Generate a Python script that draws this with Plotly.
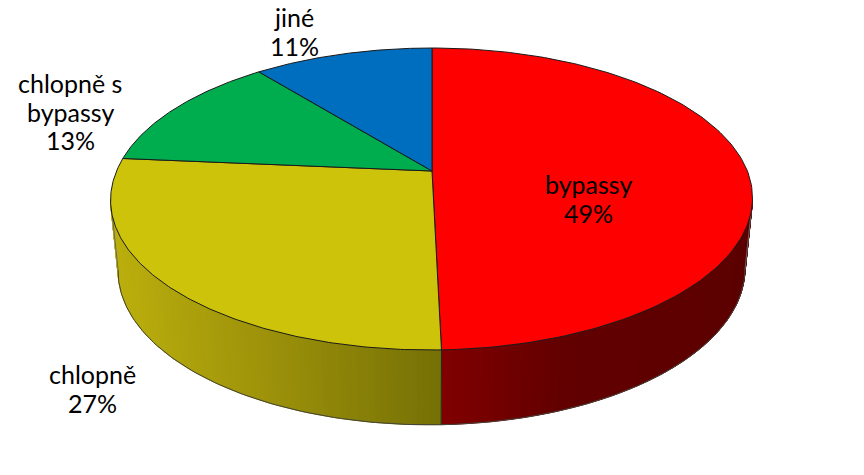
"""3D-looking pie of cardiac surgery shares, drawn as filled polygons."""

import numpy as np
import plotly.graph_objects as go

slice_names = ["bypassy", "chlopně", "chlopně s<br>bypassy", "jiné"]
slice_shares = [49.49, 26.9, 12.8, 10.81]
top_colors = ["#ff0000", "#cdc30a", "#00ad4e", "#006ebf"]

# wall colours as (position along the visible wall, rgb)
wall_stops = {
    0: [(0.0, (92, 0, 0)), (0.6, (98, 0, 0)), (1.0, (130, 0, 0))],
    1: [(0.0, (118, 113, 6)), (0.55, (158, 147, 10)), (1.0, (188, 176, 14))],
}

label_pos = [(588, 184), (92, 374), (70, 83), (294, 17)]
LINE_PITCH = 28.5

# projection of the disc: top face and bottom face
TOP = dict(cx=432.0, cy=171.0, a=315.4, b=145.8, k=0.1854, shear=2.4)
BOTTOM = dict(cx=432.0, cy=241.0, a=308.0, b=149.7, k=0.1854, shear=2.4)
# where the wall silhouette meets the rims
WALL_FROM, WALL_TO = np.radians(100.7), np.radians(259.3)


def project(theta, face):
    """Map a clockwise angle from 12 o'clock to page pixels."""
    u, v = np.sin(theta), np.cos(theta)
    w = 1 + face["k"] * v
    x = face["cx"] + (face["a"] * u + face["shear"] * np.minimum(v, 0)) / w
    return x, face["cy"] - face["b"] * v / w


def wall_color(stops, t):
    ts = [s[0] for s in stops]
    rgb = [np.interp(t, ts, [s[1][i] for s in stops]) for i in range(3)]
    return "rgb({:.0f},{:.0f},{:.0f})".format(*rgb)


edges = np.radians(np.concatenate([[0], np.cumsum(slice_shares)]) * 3.6)
fig = go.Figure()

# side wall first, the top face covers whatever overlaps
for idx, stops in wall_stops.items():
    steps = np.linspace(max(edges[idx], WALL_FROM), min(edges[idx + 1], WALL_TO), 90)
    xt, yt = project(steps, TOP)
    xb, yb = project(steps, BOTTOM)

    # solid base so the strip edges do not blend with the white page
    base = wall_color(stops, 0.5)
    fig.add_trace(go.Scatter(
        x=np.concatenate([xt, xb[::-1], xt[:1]]),
        y=np.concatenate([yt, yb[::-1], yt[:1]]),
        mode="lines", fill="toself", fillcolor=base,
        line=dict(color=base, width=0),
        hoverinfo="skip", showlegend=False,
    ))
    for i in range(len(steps) - 1):
        t = abs((xt[i] - xt[0]) / (xt[-1] - xt[0]))
        color = wall_color(stops, t)
        fig.add_trace(go.Scatter(
            x=[xt[i], xt[i + 1], xb[i + 1], xb[i], xt[i]],
            y=[yt[i], yt[i + 1], yb[i + 1], yb[i], yt[i]],
            mode="lines", fill="toself", fillcolor=color,
            line=dict(color=color, width=1),
            hoverinfo="skip", showlegend=False,
        ))
    # lower rim of the wall
    fig.add_trace(go.Scatter(
        x=xb, y=yb, mode="lines", line=dict(color="#44443a", width=1),
        hoverinfo="skip", showlegend=False,
    ))

# outer wall edges and the seam between red and yellow
for ang, color in [(WALL_FROM, "#666666"), (edges[1], "#222222"), (WALL_TO, "#666666")]:
    xt, yt = project(ang, TOP)
    xb, yb = project(ang, BOTTOM)
    fig.add_trace(go.Scatter(
        x=[xt, xb], y=[yt, yb], mode="lines",
        line=dict(color=color, width=1),
        hoverinfo="skip", showlegend=False,
    ))

# top face slices
cx, cy = TOP["cx"], TOP["cy"]
for i, color in enumerate(top_colors):
    arc = np.linspace(edges[i], edges[i + 1], 160)
    xa, ya = project(arc, TOP)
    fig.add_trace(go.Scatter(
        x=np.concatenate([[cx], xa, [cx]]),
        y=np.concatenate([[cy], ya, [cy]]),
        mode="lines", fill="toself", fillcolor=color,
        line=dict(color="#1a1a1a", width=1),
        hoverinfo="skip", showlegend=False,
    ))

for name, share, (lx, ly) in zip(slice_names, slice_shares, label_pos):
    rows = name.split("<br>") + [f"{round(share)}%"]
    for n, row in enumerate(rows):
        fig.add_annotation(
            x=lx, y=ly + n * LINE_PITCH, xref="x", yref="y", showarrow=False,
            text=row, font=dict(family="Lato", size=25, color="black"),
        )

fig.update_xaxes(range=[0, 864], visible=False, fixedrange=True)
fig.update_yaxes(range=[475, 0], visible=False, fixedrange=True)
fig.update_layout(
    width=864, height=475,
    margin=dict(l=0, r=0, t=0, b=0),
    paper_bgcolor="white", plot_bgcolor="white",
    showlegend=False,
)

# the default page keeps an 8px body margin
fig.write_html(
    "out.html",
    config={"displayModeBar": False},
    post_script="document.body.style.margin = '0';",
)
